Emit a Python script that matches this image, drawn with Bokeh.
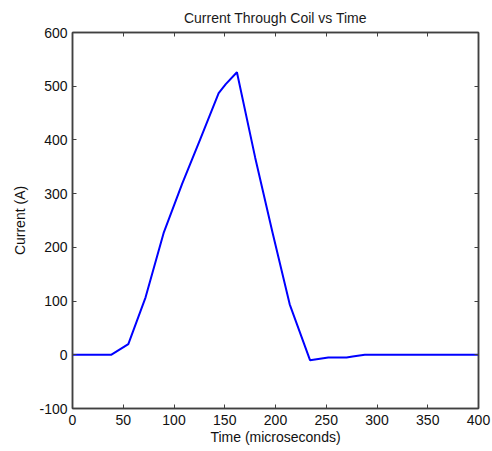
from bokeh.plotting import figure
from bokeh.models import LinearAxis, Range1d, FixedTicker, CustomJSTickFormatter
from bokeh.embed import file_html
from bokeh.resources import INLINE

time_us = [0, 38, 55, 72, 90, 108, 126, 144, 151, 162, 180, 197, 214, 234, 252, 270, 276, 288, 400]
current_a = [0, 0, 20, 107, 228, 318, 402, 487, 504, 526, 367, 228, 94, -10, -5, -5, -3, 0, 0]
x_ticks = [0, 50, 100, 150, 200, 250, 300, 350, 400]
y_ticks = [-100, 0, 100, 200, 300, 400, 500, 600]

FONT = "Liberation Sans"
AXC = "#404040"

p = figure(frame_width=406, frame_height=376, output_backend="svg", toolbar_location=None,
           x_range=Range1d(0, 400), y_range=Range1d(-100, 600),
           title="Current Through Coil vs Time",
           min_border_left=72, min_border_right=14, min_border_top=32, min_border_bottom=43)
p.title.align = "center"
p.title.text_font = FONT
p.title.text_font_size = "14px"
p.title.text_font_style = "normal"
p.title.text_color = "#1a1a1a"
p.title.offset = 0
p.title.standoff = 14
p.xgrid.visible = False
p.ygrid.visible = False
p.outline_line_color = AXC
p.outline_line_width = 1.5
p.outline_line_alpha = 1

p.line(time_us, current_a, line_color="#0000FF", line_width=2)

def style(ax, ticks):
    ax.ticker = FixedTicker(ticks=ticks)
    ax.axis_line_color = AXC
    ax.axis_line_width = 1.5
    ax.major_tick_in = 4
    ax.major_tick_out = 0
    ax.major_tick_line_color = AXC
    ax.minor_tick_line_color = None
    ax.major_label_text_font = FONT
    ax.major_label_text_font_size = "14px"
    ax.major_label_text_color = "#111111"
    ax.axis_label_text_font = FONT
    ax.axis_label_text_font_size = "14px"
    ax.axis_label_text_font_style = "normal"
    ax.axis_label_text_color = "#111111"

xa = p.xaxis[0]
ya = p.yaxis[0]
style(xa, x_ticks)
style(ya, y_ticks)
ya.formatter = CustomJSTickFormatter(code="return String(tick);")
xa.axis_label = "Time (microseconds)"
ya.axis_label = "Current (A)"
xa.axis_label_standoff = 1
ya.axis_label_standoff = 8
xa.major_label_standoff = 6
ya.major_label_standoff = 5

ra = LinearAxis()
aa = LinearAxis()
p.add_layout(ra, "right")
p.add_layout(aa, "above")
style(ra, y_ticks)
style(aa, x_ticks)
for ax in (ra, aa):
    ax.formatter = CustomJSTickFormatter(code="return '';")
    ax.major_label_standoff = 0

open("out.html", "w").write(file_html(p, INLINE))
